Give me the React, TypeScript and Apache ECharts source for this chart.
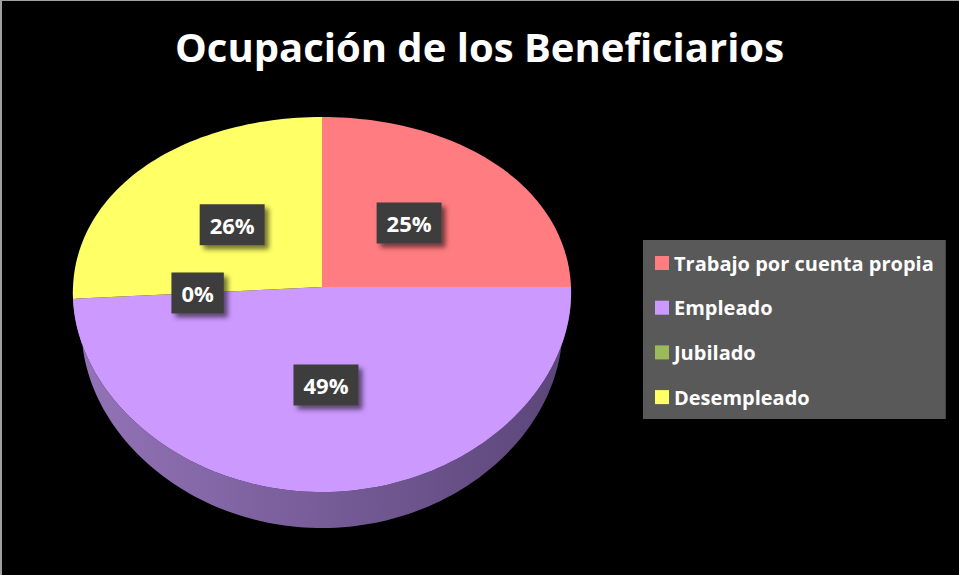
import React, { useEffect, useRef } from "react";
import * as echarts from "echarts";

const titleText = "Ocupación de los Beneficiarios";
const categories = ["Trabajo por cuenta propia", "Empleado", "Jubilado", "Desempleado"];
const values = [25, 49, 0, 26];
const sliceColors = ["#FF7C80", "#CC99FF", "#9BBB59", "#FFFF66"];
const wallColors = [
  ["#c0585c", "#a04246"],
  ["#9474b8", "#5a4578"],
  ["#74903f", "#5a702f"],
  ["#b8b84a", "#8f8f30"],
];

// projection of the tilted disc
const CX = 322;
const CY = 287;
const RX = 249;
const A = 187.5;
const B = 17.5;
const C = 0.03;
const DEPTH = 36;
const KX = 0.965;

function proj(theta: number, r: number, down = 0, kx = 1): number[] {
  const u = Math.sin(theta) * r;
  const v = -Math.cos(theta) * r;
  return [CX + RX * u * (1 + C * v) * kx, CY + A * v + B * v * v + down];
}

const total = values.reduce((s, v) => s + v, 0);
const starts: number[] = [];
{
  let acc = 0;
  for (const v of values) {
    starts.push((acc / total) * Math.PI * 2);
    acc += v;
  }
}

function arcPoints(t1: number, t2: number, r: number, down: number, kx: number): number[][] {
  const pts: number[][] = [];
  const n = Math.max(2, Math.ceil(((t2 - t1) / (Math.PI * 2)) * 240));
  for (let k = 0; k <= n; k++) {
    const t = t1 + ((t2 - t1) * k) / n;
    pts.push(proj(t, r, down, kx));
  }
  return pts;
}

function makeRenderItem(i: number) {
  return function renderItem(params: any, api: any) {
    const val = api.value(0);
    const t1 = starts[i];
    const t2 = t1 + (val / total) * Math.PI * 2;
    const children: any[] = [];
    // wall (front half: theta in [PI/2, 3PI/2])
    const w1 = Math.max(t1, Math.PI / 2);
    const w2 = Math.min(t2, (Math.PI * 3) / 2);
    if (w2 > w1) {
      const top = arcPoints(w1, w2, 1, 0, 1);
      const bot = arcPoints(w1, w2, 1, DEPTH, KX).reverse();
      children.push({
        type: "polygon",
        z2: 1,
        shape: { points: top.concat(bot) },
        style: {
          fill: new echarts.graphic.LinearGradient(CX - RX, 0, CX + RX, 0, [
            { offset: 0, color: wallColors[i][0] },
            { offset: 1, color: wallColors[i][1] },
          ], true),
          stroke: null,
        },
      });
    }
    if (t2 > t1) {
      const face = [[CX, CY]].concat(arcPoints(t1, t2, 1, 0, 1));
      children.push({
        type: "polygon",
        z2: 10,
        shape: { points: face },
        style: { fill: sliceColors[i], stroke: null },
      });
    }
    const mid = (t1 + t2) / 2;
    const lp = proj(mid, 0.5, 0, 1);
    const pct = Math.round((val / total) * 100) + "%";
    children.push({
      type: "text",
      z2: 30,
      x: lp[0],
      y: lp[1],
      style: {
        text: pct,
        fill: "#ffffff",
        font: "bold 22px 'Open Sans', sans-serif",
        lineHeight: 22,
        align: "center",
        verticalAlign: "middle",
        backgroundColor: "#3d3d3d",
        padding: [10, 10, 9, 10],
        shadowColor: "rgba(0,0,0,0.55)",
        shadowBlur: 5,
        shadowOffsetX: 4,
        shadowOffsetY: 4,
      },
    });
    return { type: "group", children };
  };
}

export default function App() {
  const ref = useRef<HTMLDivElement>(null);
  useEffect(() => {
    document.body.style.margin = "0";
    const chart = echarts.init(ref.current!, undefined, { renderer: "svg" });
    chart.setOption({
      animation: false,
      backgroundColor: "#000000",
      color: sliceColors,
      title: {
        text: titleText,
        left: "center",
        top: 21,
        textStyle: {
          color: "#ffffff",
          fontFamily: "'Open Sans', sans-serif",
          fontWeight: "bold",
          fontSize: 40,
        },
      },
      legend: {
        orient: "vertical",
        left: 643,
        top: 240,
        data: categories,
        icon: "rect",
        itemWidth: 14,
        itemHeight: 14,
        itemGap: 24.7,
        padding: [13, 12, 12, 12],
        backgroundColor: "#595959",
        selectedMode: false,
        textStyle: {
          color: "#ffffff",
          fontFamily: "'Open Sans', sans-serif",
          fontWeight: "bold",
          fontSize: 20,
          lineHeight: 20,
        },
      },
      graphic: [
        { type: "rect", shape: { x: 0, y: 0, width: 959, height: 1 }, style: { fill: "#a0a0a0" } },
        { type: "rect", shape: { x: 0, y: 0, width: 2, height: 575 }, style: { fill: "#a0a0a0" } },
      ],
      series: categories.map((name, i) => ({
        type: "custom",
        name,
        coordinateSystem: "none",
        itemStyle: { color: sliceColors[i] },
        data: [[values[i]]],
        renderItem: makeRenderItem(i),
      })),
    });
    return () => chart.dispose();
  }, []);
  return <div ref={ref} style={{ width: 959, height: 575, background: "#000" }} />;
}
